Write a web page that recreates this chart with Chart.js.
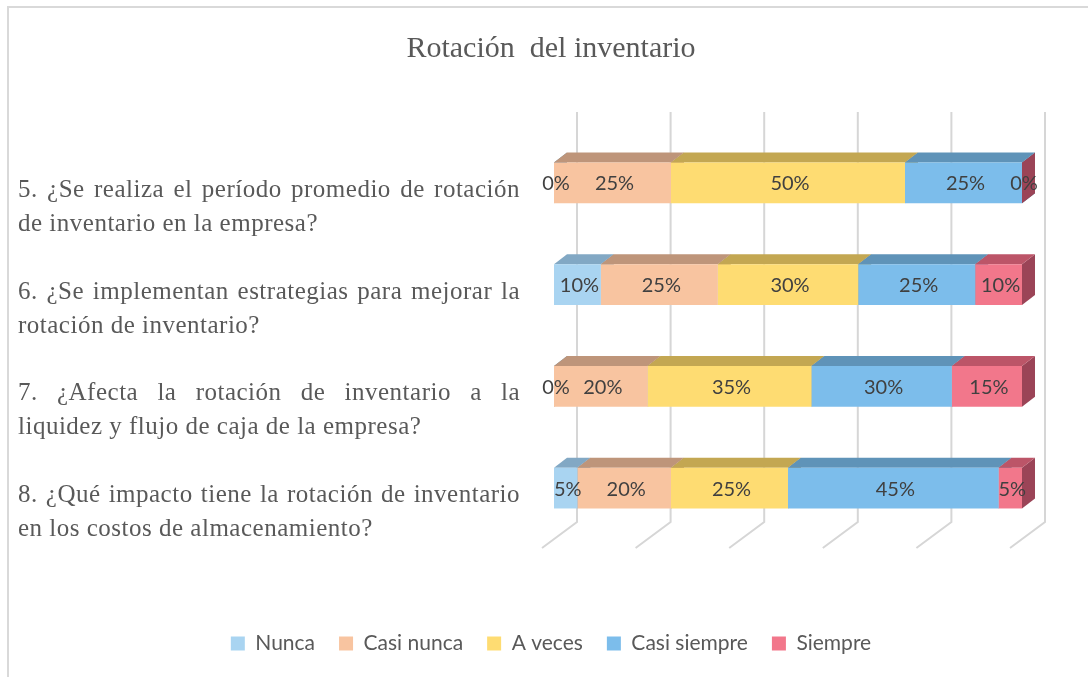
<!DOCTYPE html>
<html>
<head>
<meta charset="utf-8">
<script src="https://cdn.jsdelivr.net/npm/chart.js@4.4.1/dist/chart.umd.min.js"></script>
<style>
  html, body { margin: 0; padding: 0; background: #fff; }
  #marco { position: absolute; left: 0; top: 0; width: 1088px; height: 677px; }
  #borde { position: absolute; left: 7px; top: 6px; right: 0; bottom: 0; border-left: 2px solid #d9d9d9; border-top: 2px solid #d9d9d9; pointer-events: none; }
</style>
</head>
<body>
<div id="marco">
  <canvas id="grafico" width="1088" height="677"></canvas>
  <div id="borde"></div>
</div>
<script>
// datos
const preguntas = [
  ['5. ¿Se realiza el período promedio de rotación', 'de inventario en la empresa?'],
  ['6. ¿Se implementan estrategias para mejorar la', 'rotación de inventario?'],
  ['7. ¿Afecta la rotación de inventario a la', 'liquidez y flujo de caja de la empresa?'],
  ['8. ¿Qué impacto tiene la rotación de inventario', 'en los costos de almacenamiento?']
];
const series = ['Nunca', 'Casi nunca', 'A veces', 'Casi siempre', 'Siempre'];
const nunca = [0, 10, 0, 5];
const casiNunca = [25, 25, 20, 20];
const aVeces = [50, 30, 35, 25];
const casiSiempre = [25, 25, 30, 45];
const siempre = [0, 10, 15, 5];

const colores = ['#a9d4f1', '#f8c4a0', '#fedc72', '#7cbdeb', '#f2778b'];
const coloresArriba = ['#82a8c4', '#be957a', '#c3a752', '#5f93b8', '#bc5568'];
const coloresLado = ['#6b8da6', '#a07c64', '#a58d44', '#4f7c9c', '#9b4457'];

const DX = 13, DY = 10;

// caras 3D y rejilla de fondo
const plugin3D = {
  id: 'plugin3D',
  beforeDatasetsDraw(chart) {
    const ctx = chart.ctx;
    const area = chart.chartArea;
    const xs = chart.scales.x;

    ctx.save();
    ctx.strokeStyle = '#d6d6d6';
    ctx.lineWidth = 2;
    xs.ticks.forEach(t => {
      const px = xs.getPixelForValue(t.value);
      ctx.beginPath();
      ctx.moveTo(px + 23, area.top - 20);
      ctx.lineTo(px + 23, area.bottom - 17);
      ctx.lineTo(px - 12, area.bottom + 9);
      ctx.stroke();
    });

    // caras laterales
    chart.data.datasets.forEach((ds, i) => {
      chart.getDatasetMeta(i).data.forEach(bar => {
        const top = bar.y - bar.height / 2;
        const bottom = bar.y + bar.height / 2;
        const right = bar.x;
        ctx.fillStyle = coloresLado[i];
        ctx.beginPath();
        ctx.moveTo(right, top);
        ctx.lineTo(right + DX, top - DY);
        ctx.lineTo(right + DX, bottom - DY);
        ctx.lineTo(right, bottom);
        ctx.closePath();
        ctx.fill();
      });
    });

    // caras superiores
    chart.data.datasets.forEach((ds, i) => {
      chart.getDatasetMeta(i).data.forEach(bar => {
        const top = bar.y - bar.height / 2;
        const left = bar.base;
        const right = bar.x;
        if (right - left <= 0) return;
        ctx.fillStyle = coloresArriba[i];
        ctx.beginPath();
        ctx.moveTo(left, top);
        ctx.lineTo(left + DX, top - DY);
        ctx.lineTo(right + DX, top - DY);
        ctx.lineTo(right, top);
        ctx.closePath();
        ctx.fill();
      });
    });
    ctx.restore();
  },
  afterDatasetsDraw(chart) {
    const ctx = chart.ctx;
    ctx.save();
    ctx.font = '20px Lato';
    ctx.fillStyle = '#404040';
    ctx.textAlign = 'center';
    ctx.textBaseline = 'middle';
    chart.data.datasets.forEach((ds, i) => {
      chart.getDatasetMeta(i).data.forEach((bar, j) => {
        ctx.fillText(ds.data[j] + '%', (bar.x + bar.base) / 2 + 2, bar.y + 1);
      });
    });
    ctx.restore();
  }
};

// etiquetas de las preguntas, justificadas
const pluginPreguntas = {
  id: 'pluginPreguntas',
  afterDraw(chart) {
    const ctx = chart.ctx;
    const ys = chart.scales.y;
    const izq = 18, der = 520;
    ctx.save();
    ctx.font = '25px "Liberation Serif"';
    ctx.letterSpacing = '0.5px';
    ctx.fillStyle = '#595959';
    ctx.textBaseline = 'alphabetic';
    ctx.textAlign = 'left';
    preguntas.forEach((lineas, i) => {
      const yc = ys.getPixelForValue(i);
      lineas.forEach((linea, k) => {
        const y = yc + 14 + k * 34;
        if (k === lineas.length - 1) {
          ctx.fillText(linea, izq, y);
          return;
        }
        const palabras = linea.split(' ');
        const anchos = palabras.map(p => ctx.measureText(p).width);
        const total = anchos.reduce((a, b) => a + b, 0);
        let hueco = (der - izq - total) / (palabras.length - 1);
        let escala = 1;
        if (hueco < 5) {
          hueco = 5;
          escala = (der - izq) / (total + hueco * (palabras.length - 1));
        }
        ctx.save();
        ctx.translate(izq, y);
        ctx.scale(escala, 1);
        let x = 0;
        palabras.forEach((p, n) => {
          ctx.fillText(p, x, 0);
          x += anchos[n] + hueco;
        });
        ctx.restore();
      });
    });
    ctx.restore();
  }
};

const datos = [nunca, casiNunca, aVeces, casiSiempre, siempre];

new Chart(document.getElementById('grafico'), {
  type: 'bar',
  data: {
    labels: preguntas,
    datasets: series.map((nombre, i) => ({
      label: nombre,
      data: datos[i],
      backgroundColor: colores[i],
      borderWidth: 0,
      barPercentage: 0.4,
      categoryPercentage: 1
    }))
  },
  options: {
    indexAxis: 'y',
    responsive: false,
    animation: false,
    layout: { padding: { left: 14, right: 0, top: 0, bottom: 13 } },
    plugins: {
      title: {
        display: true,
        text: 'Rotación  del inventario',
        color: '#595959',
        font: { family: '"Liberation Serif"', size: 30, weight: 'normal' },
        padding: { top: 31, bottom: 65 }
      },
      legend: {
        position: 'bottom',
        labels: {
          color: '#595959',
          font: { family: 'Lato', size: 21 },
          boxWidth: 14,
          boxHeight: 14,
          padding: 24
        }
      },
      tooltip: { enabled: false }
    },
    scales: {
      x: {
        stacked: true,
        min: 0,
        max: 100,
        ticks: { display: false, stepSize: 20 },
        grid: { display: false },
        border: { display: false },
        afterFit(scale) { scale.height = 70; }
      },
      y: {
        stacked: true,
        ticks: { display: false },
        grid: { display: false },
        border: { display: false },
        afterFit(scale) { scale.width = 540; }
      },
      y2: {
        type: 'category',
        position: 'right',
        ticks: { display: false },
        grid: { display: false },
        border: { display: false },
        afterFit(scale) { scale.width = 66; }
      }
    }
  },
  plugins: [plugin3D, pluginPreguntas]
});
</script>
</body>
</html>
